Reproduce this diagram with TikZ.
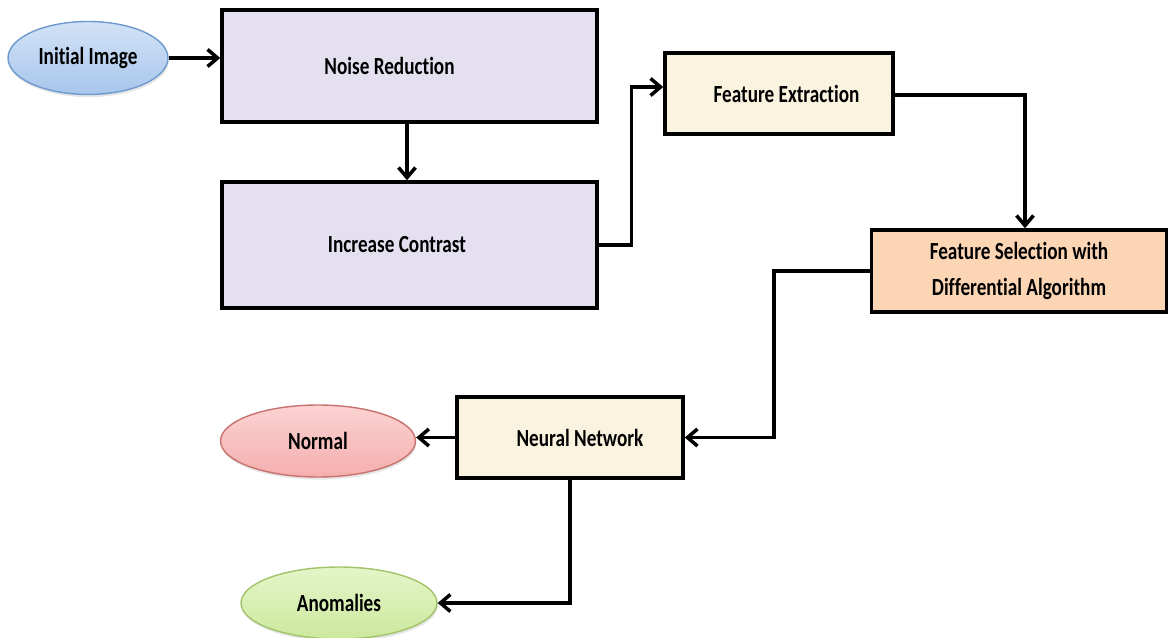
\documentclass[tikz,border=0pt]{standalone}
\usepackage{fontspec}
\setmainfont{Carlito}[FakeStretch=0.78, Ligatures=CommonOff]
\usepackage{xcolor}
\usepackage{tikz}
\usetikzlibrary{shapes.geometric,arrows.meta,shadows}

\definecolor{lavender}{HTML}{E5E0F0}
\definecolor{cream}{HTML}{FAF3E0}
\definecolor{peach}{HTML}{FCD5B5}
\definecolor{skytop}{HTML}{D2E2F6}
\definecolor{skybot}{HTML}{A8C6EC}
\definecolor{skyline}{HTML}{6F9AD0}
\definecolor{pinktop}{HTML}{FBD3D2}
\definecolor{pinkbot}{HTML}{F4AFAE}
\definecolor{pinkline}{HTML}{C8716E}
\definecolor{limetop}{HTML}{E4F5C8}
\definecolor{limebot}{HTML}{CCE99E}
\definecolor{limeline}{HTML}{A2C36A}

\begin{document}
\begin{tikzpicture}[
	x=0.02cm, y=-0.02cm,
	every node/.style={font=\bfseries\fontsize{14}{20}\selectfont},
	stepbox/.style={shape=rectangle, draw=black, line width=2pt, align=center},
	endnode/.style={shape=ellipse, line width=0.8pt, inner sep=0pt,
		drop shadow={opacity=0.2, shadow xshift=0.5pt, shadow yshift=-1.5pt}},
	flow/.style={line width=2pt, -{Straight Barb[length=2mm,width=3.4mm]}},
]
\useasboundingbox (0,0) rectangle (1170,638);

% start
\node[endnode, top color=skytop, bottom color=skybot, draw=skyline, minimum width=3.2cm, minimum height=1.46cm] (img) at (88,58) {Initial Image};

% preprocessing
\node[stepbox, fill=lavender, minimum width=7.5cm, minimum height=2.24cm] (noise) at (409.5,66) {Noise Reduction\hspace*{0.8cm}};
\node[stepbox, fill=lavender, minimum width=7.5cm, minimum height=2.52cm] (contrast) at (409.5,245) {Increase Contrast\hspace*{0.5cm}};

% features
\node[stepbox, fill=cream, minimum width=4.56cm, minimum height=1.62cm] (extract) at (779,93.5) {\hspace*{0.3cm}Feature Extraction};
\node[stepbox, fill=peach, minimum width=5.9cm, minimum height=1.64cm] (select) at (1019,271) {Feature Selection with\\Differential Algorithm};

% classifier
\node[stepbox, fill=cream, minimum width=4.52cm, minimum height=1.62cm] (nn) at (570,437.5) {\hspace*{0.4cm}Neural Network};
\node[endnode, top color=pinktop, bottom color=pinkbot, draw=pinkline, minimum width=3.9cm, minimum height=1.44cm] (normal) at (318,441) {Normal};
\node[endnode, top color=limetop, bottom color=limebot, draw=limeline, minimum width=3.92cm, minimum height=1.44cm] (anom) at (339,603) {Anomalies};

\draw[flow] (img.east) -- (img.east -| noise.west);
\draw[flow] (noise.south -| 407,0) -- (contrast.north -| 407,0);
\draw[flow] (contrast.east) -- ++(33,0) |- ([yshift=0.13cm]extract.west);
\draw[flow] ([yshift=-0.03cm]extract.east) -| ([xshift=0.12cm]select.north);
\draw[flow] (select.west) -- ++(-96,0) |- (nn.east);
\draw[flow] (nn.west) -- (normal.east |- nn.west);
\draw[flow] (nn.south) |- (anom.east);
\end{tikzpicture}
\end{document}
